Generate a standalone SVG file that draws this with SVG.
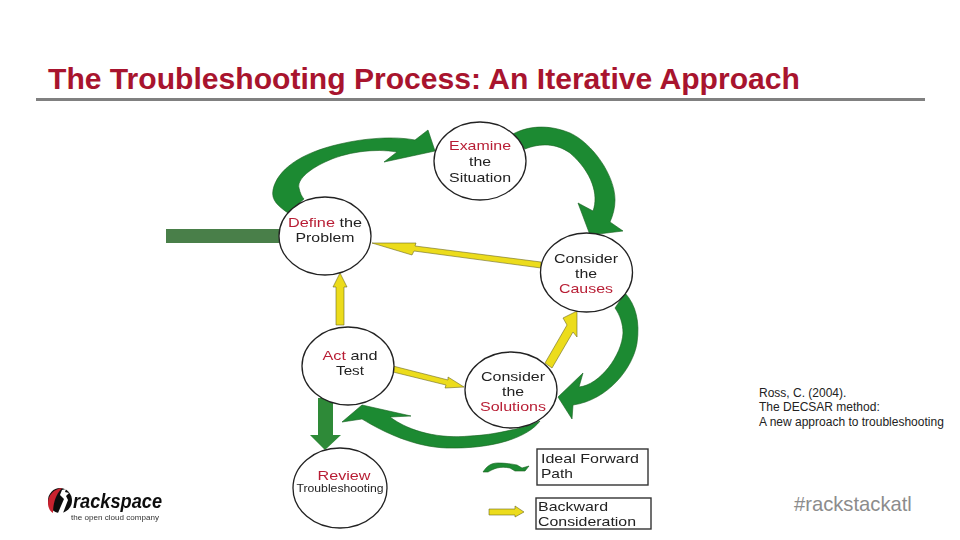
<svg xmlns="http://www.w3.org/2000/svg" width="960" height="540" viewBox="0 0 960 540">
<style>
.n{fill:#fff;stroke:#222;stroke-width:1.3}
.g{fill:#1f8a32;stroke:#14601f;stroke-width:.6}
.y{fill:#ecdc1e;stroke:#6d6a20;stroke-width:.6}
.t{font-family:"Liberation Sans",Arial,sans-serif;font-size:13px;fill:#222;text-anchor:middle}
.r{fill:#b81f35}
.b{fill:none;stroke:#333;stroke-width:1.4}
.l{font-family:"Liberation Sans",Arial,sans-serif;font-size:13px;fill:#222}
.c{font-family:"Liberation Sans",Arial,sans-serif;font-size:12px;fill:#222}
</style>
<defs><filter id="s" x="-5%" y="-5%" width="110%" height="110%"><feGaussianBlur stdDeviation="0.35"/></filter></defs>
<rect width="960" height="540" fill="#fff"/>
<text id="title" x="48" y="89" font-family="Liberation Sans,Arial,sans-serif" font-size="30.100" font-weight="bold" fill="#a8142e">The Troubleshooting Process: An Iterative Approach</text>
<rect x="36" y="98" width="889" height="3" fill="#808080"/>
<g filter="url(#s)">
<g id="connectors">
<rect x="166" y="229" width="113" height="14" fill="#4a7f4a"/>
<path class="g" d="M288 213C278 206 271 200 273 190C277 170 300 153 340 144C365 138 395 136 415 140L428 130L435 151L384 162L397 152C375 148 345 152 325 162C308 170 297 180 299 188C300 193 302 197 304 199Z"/>
<path class="g" d="M513 134C528 126 548 124 570 133C592 143 615 175 615 200C615 208 613 215 610 222L623 231L590 235L578 203L593 211C599 195 592 172 570 153C556 143 540 143 525 149Z"/>
<path class="g" d="M625 293C636 305 640 322 637 343C633 368 608 400 573 405L572 419L558 397L583 373L579 387C600 385 622 355 623 333C623 324 620 315 615 308Z"/>
<path class="g" d="M540 421C528 437 495 449 447 448C415 447 385 433 362 419L342 422L362 405L411 416L390 417C410 432 440 439 470 436C495 435 520 428 530 425Z"/>
<path fill="#2f8a38" d="M318 398H333V435H341L325 450L310 435H318Z"/>
<path class="y" d="M336 325V287H333L340 273L347 287H344V325Z"/>
<path class="y" d="M541 262L415 246L416 243H372L412 255L414 251L541 268Z"/>
<path class="y" d="M545 363L567 325L563 318L577 311L577 337L573 332L552 368Z"/>
<path class="y" d="M393 366L448 380L448 377L464 387L445 388L446 385L393 372Z"/>
<path class="g" d="M483 472C487 466 491 463 498 463C505 463 512 464 517 465L522 468L529 466L525 471H515L510 468C505 467 501 467 497 468C493 469 490 471 488 472Z"/>
<path class="y" d="M489 509H515V506L524 512L515 517V515H489Z"/>
</g>
<g id="examine"><ellipse class="n" cx="480" cy="161" rx="46" ry="39"/><text class="t r" x="480" y="150" textLength="62" lengthAdjust="spacingAndGlyphs">Examine</text><text class="t" x="480" y="166" textLength="22" lengthAdjust="spacingAndGlyphs">the</text><text class="t" x="480" y="182" textLength="62" lengthAdjust="spacingAndGlyphs">Situation</text></g>
<g id="define"><ellipse class="n" cx="325" cy="236" rx="46" ry="39"/><text class="t" x="325" y="227" textLength="74" lengthAdjust="spacingAndGlyphs"><tspan class="r">Define</tspan> the</text><text class="t" x="325" y="242" textLength="59" lengthAdjust="spacingAndGlyphs">Problem</text></g>
<g id="causes"><ellipse class="n" cx="586.500" cy="272.500" rx="46" ry="39.500"/><text class="t" x="586" y="263" textLength="64" lengthAdjust="spacingAndGlyphs">Consider</text><text class="t" x="586" y="278" textLength="22" lengthAdjust="spacingAndGlyphs">the</text><text class="t r" x="586" y="293" textLength="54" lengthAdjust="spacingAndGlyphs">Causes</text></g>
<g id="act"><ellipse class="n" cx="348" cy="366" rx="46" ry="39"/><text class="t" x="350" y="360" textLength="55" lengthAdjust="spacingAndGlyphs"><tspan class="r">Act</tspan> and</text><text class="t" x="350" y="375" textLength="28" lengthAdjust="spacingAndGlyphs">Test</text></g>
<g id="solutions"><ellipse class="n" cx="511" cy="390" rx="46" ry="38"/><text class="t" x="513" y="381" textLength="64" lengthAdjust="spacingAndGlyphs">Consider</text><text class="t" x="513" y="396" textLength="22" lengthAdjust="spacingAndGlyphs">the</text><text class="t r" x="513" y="411" textLength="66" lengthAdjust="spacingAndGlyphs">Solutions</text></g>
<g id="review"><ellipse class="n" cx="340" cy="488" rx="47" ry="40"/><text class="t r" x="344" y="480" textLength="53" lengthAdjust="spacingAndGlyphs">Review</text><text class="t" x="340" y="492" style="font-size:10.500px" textLength="87" lengthAdjust="spacingAndGlyphs">Troubleshooting</text></g>
<g id="legend-forward"><rect class="b" x="537" y="449" width="111" height="36"/><text class="l" x="541" y="463" textLength="98" lengthAdjust="spacingAndGlyphs">Ideal Forward</text><text class="l" x="541" y="478" textLength="32" lengthAdjust="spacingAndGlyphs">Path</text></g>
<g id="legend-backward"><rect class="b" x="536" y="498" width="115" height="31"/><text class="l" x="538" y="511" textLength="70" lengthAdjust="spacingAndGlyphs">Backward</text><text class="l" x="538" y="526" textLength="98" lengthAdjust="spacingAndGlyphs">Consideration</text></g>
<g id="logo">
<ellipse cx="60" cy="500.500" rx="12" ry="12.500" fill="#111"/>
<path fill="#c8202f" d="M62 488C54 489 48 495 48 503C48 508 50 511 53 513C53 505 55 495 62 488Z"/>
<path fill="#fff" d="M58 513L64 499L60 495L62 490L66 489L65 492L69 493L66 496L68 500L63 513Z"/>
<text x="73" y="508" font-family="Liberation Sans,Arial,sans-serif" font-size="19.500" font-weight="bold" font-style="italic" fill="#111" textLength="89" lengthAdjust="spacingAndGlyphs">rackspace</text>
<text x="71" y="520" font-family="Liberation Sans,Arial,sans-serif" font-size="7" fill="#333" textLength="88" lengthAdjust="spacingAndGlyphs">the open cloud company</text>
</g>
</g>
<g id="citation"><text class="c" x="759" y="397">Ross, C. (2004).</text><text class="c" x="759" y="411">The DECSAR method:</text><text class="c" x="759" y="426">A new approach to troubleshooting</text></g>
<text id="hashtag" x="794" y="511" font-family="Liberation Sans,Arial,sans-serif" font-size="20.200" fill="#8c8c8c">#rackstackatl</text>
</svg>
